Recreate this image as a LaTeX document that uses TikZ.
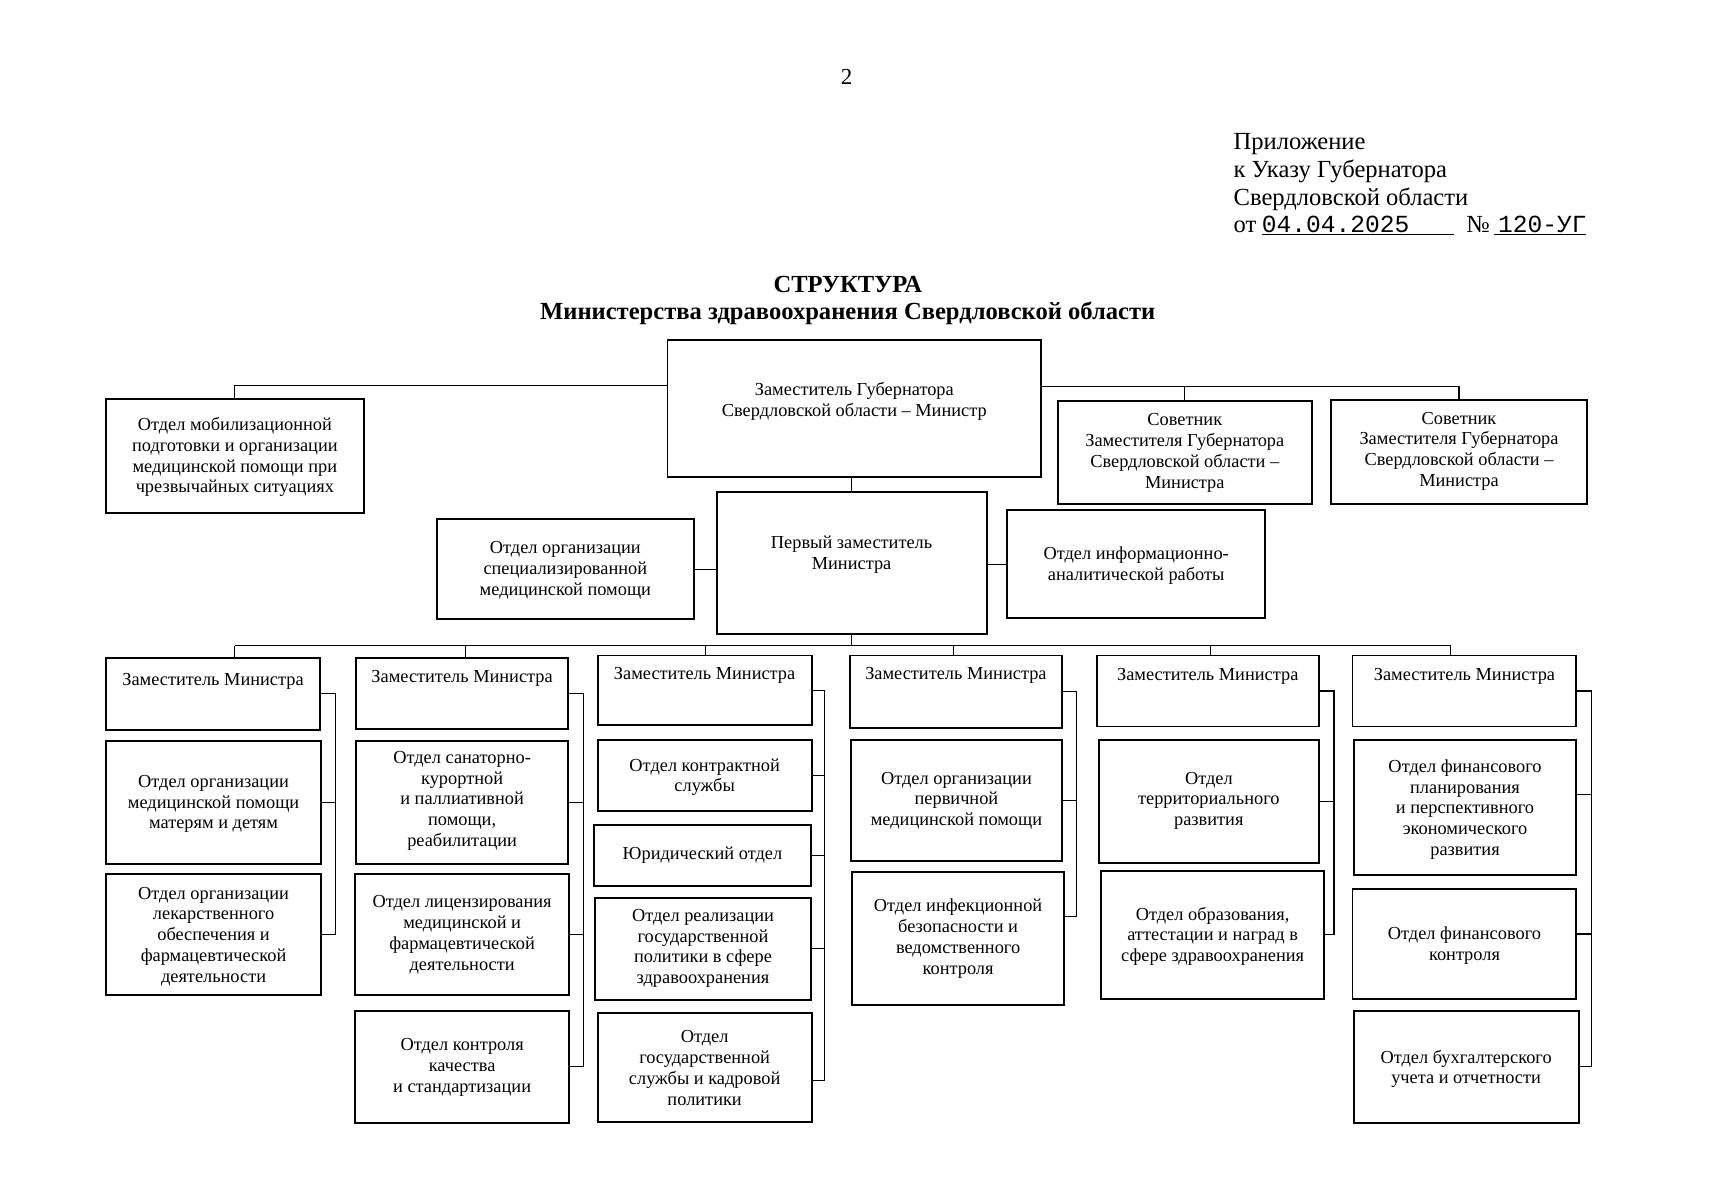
\documentclass[tikz,border=0pt]{standalone}
\usepackage{fontspec}
\setmainfont{Liberation Serif}
\newfontfamily\monofnt{Liberation Mono}
\usetikzlibrary{calc}
\tikzset{
  box/.style={draw, line width=1.8pt, inner sep=0pt, outer sep=0pt},
  txt/.style={font=\fontsize{16.8}{19}\selectfont, align=center, inner sep=0pt},
  conn/.style={line width=1.1pt},
}
\newcommand\mkbox[7]{%
  \node[box, minimum width={(#4)-(#2)}, minimum height={(#5)-(#3)}] (#1) at ({((#2)+(#4))/2},{((#3)+(#5))/2}) {};
  \node[txt] (#1t) at ({((#2)+(#4))/2},#6) {#7};}
\begin{document}
\begin{tikzpicture}[x=1pt,y=-1pt]
\useasboundingbox[fill=white] (0,0) rectangle (1568,1098.4);
% header
\node[font=\fontsize{21}{24}\selectfont, inner sep=0pt] (pg) at (775,70) {2};
\node[font=\fontsize{22.5}{25.3}\selectfont, align=left, anchor=base west, inner sep=0pt] (app) at (1129,213)
  {Приложение\\к Указу Губернатора\\Свердловской области\\от\hspace{5pt}\underline{\makebox[176pt][l]{\monofnt\fontsize{22.5}{25}\selectfont 04.04.2025}}\ \ №\,\underline{\makebox[84pt][l]{\monofnt\fontsize{22.5}{25}\selectfont\,120-УГ}}};
\node[font=\bfseries\fontsize{22.5}{25}\selectfont, align=center, inner sep=0pt] (title) at (776,275)
  {СТРУКТУРА\\Министерства здравоохранения Свердловской области};
% top level
\mkbox{main}{611}{311}{953}{437}{367.5}{Заместитель Губернатора\\Свердловской области – Министр}
\mkbox{mob}{97}{365}{333}{470}{418.5}{Отдел мобилизационной\\подготовки и организации\\медицинской помощи при\\чрезвычайных ситуациях}
\mkbox{adv1}{968}{367}{1201}{461}{414.5}{Советник\\Заместителя Губернатора\\Свердловской области –\\Министра}
\mkbox{adv2}{1218}{366}{1453}{461}{413}{Советник\\Заместителя Губернатора\\Свердловской области –\\Министра}
\mkbox{fd}{656}{450}{903}{580}{507.5}{Первый заместитель\\Министра}
\mkbox{spec}{400}{475}{635}{567}{522}{Отдел организации\\специализированной\\медицинской помощи}
\mkbox{info}{922}{467}{1158}{566}{517.5}{Отдел информационно-\\аналитической работы}
% column 1
\mkbox{d1}{97}{602}{293}{668}{624}{Заместитель Министра}
\mkbox{c1a}{97}{678}{294}{791}{736}{Отдел организации\\медицинской помощи\\матерям и детям}
\mkbox{c1b}{97}{800}{294}{911}{857}{Отдел организации\\лекарственного\\обеспечения и\\фармацевтической\\деятельности}
% column 2
\mkbox{d2}{326}{602}{520}{667}{621}{Заместитель Министра}
\mkbox{c2a}{326}{678}{520}{791}{733}{Отдел санаторно-\\курортной\\и паллиативной\\помощи,\\реабилитации}
\mkbox{c2b}{325}{800}{521}{911}{855.5}{Отдел лицензирования\\медицинской и\\фармацевтической\\деятельности}
\mkbox{c2c}{325}{925}{521}{1028}{977}{Отдел контроля\\качества\\и стандартизации}
% column 3
\mkbox{d3}{547}{600}{743}{664}{618}{Заместитель Министра}
\mkbox{c3a}{547}{677}{743}{742}{711.5}{Отдел контрактной\\службы}
\mkbox{c3b}{544}{755}{742}{811}{783}{Юридический отдел}
\mkbox{c3c}{545}{822}{742}{915}{868}{Отдел реализации\\государственной\\политики в сфере\\здравоохранения}
\mkbox{c3d}{547}{927}{743}{1027}{977.5}{Отдел\\государственной\\службы и кадровой\\политики}
% column 4
\mkbox{d4}{778}{600}{972}{666}{618}{Заместитель Министра}
\mkbox{c4a}{779}{677}{972}{788}{733}{Отдел организации\\первичной\\медицинской помощи}
\mkbox{c4b}{780}{798}{974}{920}{859}{Отдел инфекционной\\безопасности и\\ведомственного\\контроля}
% column 5
\mkbox{d5}{1004}{600}{1207}{665}{619}{Заместитель Министра}
\mkbox{c5a}{1006}{677}{1207}{790}{733}{Отдел\\территориального\\развития}
\mkbox{c5b}{1008}{797}{1212}{914}{857}{Отдел образования,\\аттестации и наград в\\сфере здравоохранения}
% column 6
\mkbox{d6}{1238}{600}{1443}{665}{619}{Заместитель Министра}
\mkbox{c6a}{1239}{677}{1443}{801}{741}{Отдел финансового\\планирования\\и перспективного\\экономического\\развития}
\mkbox{c6b}{1238}{814}{1443}{914}{865.5}{Отдел финансового\\контроля}
\mkbox{c6c}{1239}{925}{1445}{1028}{978.5}{Отдел бухгалтерского\\учета и отчетности}
% top connectors
\coordinate (lh) at ($(main.north west)+(0,42)$);
\coordinate (rh) at ($(main.north east)+(0,43)$);
\draw[conn] (lh) -| (mob.north);
\draw[conn] (rh) -| (adv2.north);
\draw[conn] (adv1.north) -- (adv1.north |- rh);
\draw[conn] (fd.north) -- (fd.north |- main.south);
\draw[conn] (spec.east) -- (spec.east -| fd.west);
\draw[conn] (info.west) -- (info.west -| fd.east);
% bus
\coordinate (b1) at (215,591);
\coordinate (b2) at (426,591);
\coordinate (b3) at (646,591);
\coordinate (b4) at (873,591);
\coordinate (b5) at (1108,591);
\coordinate (b6) at (1328,591);
\draw[conn] (b1) -- (b6);
\draw[conn] (fd.south) -- (fd.south |- b1);
\foreach \i in {1,...,6}{\draw[conn] (b\i) -- (b\i |- d\i.north);}
% spines
\coordinate (s1) at (307,0);
\coordinate (s2) at (534,0);
\coordinate (s3) at (755,0);
\coordinate (s4) at (985,0);
\coordinate (s5) at (1221,0);
\coordinate (s6) at (1457,0);
\draw[conn] (d1.east) -- (d1.east -| s1) |- (c1b.east);
\draw[conn] (c1a.east) -- (c1a.east -| s1);
\draw[conn] (d2.east) -- (d2.east -| s2) |- (c2c.east);
\draw[conn] (c2a.east) -- (c2a.east -| s2);
\draw[conn] (c2b.east) -- (c2b.east -| s2);
\draw[conn] (d3.east) -- (d3.east -| s3) |- ($(c3d.east)+(0,12)$);
\draw[conn] (c3a.east) -- (c3a.east -| s3);
\draw[conn] (c3b.east) -- (c3b.east -| s3);
\draw[conn] (c3c.east) -- (c3c.east -| s3);
\draw[conn] (d4.east) -- (d4.east -| s4) |- ($(c4b.east)+(0,-20)$);
\draw[conn] (c4a.east) -- (c4a.east -| s4);
\draw[conn] (d5.east) -- (d5.east -| s5) |- (c5b.east);
\draw[conn] (c5a.east) -- (c5a.east -| s5);
\draw[conn] (d6.east) -- (d6.east -| s6) |- (c6c.east);
\draw[conn] ($(c6a.east)+(0,-12)$) -- ($(c6a.east -| s6)+(0,-12)$);
\draw[conn] ($(c6b.east)+(0,-9)$) -- ($(c6b.east -| s6)+(0,-9)$);
\end{tikzpicture}
\end{document}
